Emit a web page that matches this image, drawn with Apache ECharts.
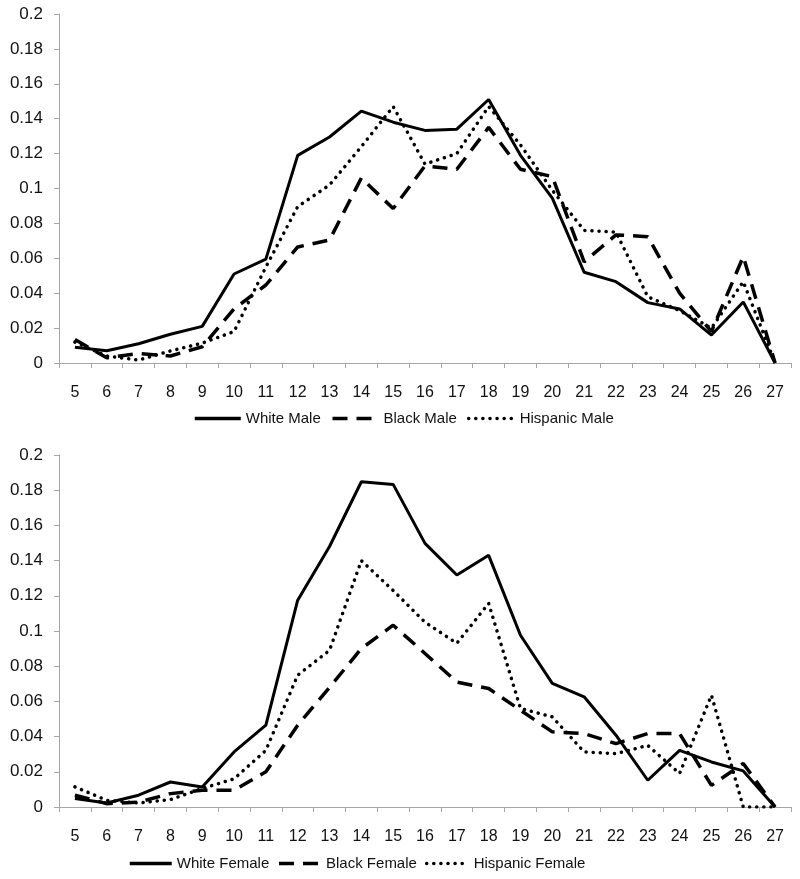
<!DOCTYPE html>
<html>
<head>
<meta charset="utf-8">
<script src="https://cdn.jsdelivr.net/npm/echarts@6/dist/echarts.min.js"></script>
<style>
html,body{margin:0;padding:0;background:#fff;}
#chart{width:800px;height:879px;}
</style>
</head>
<body>
<div id="chart"></div>
<script>
const ages = ['5','6','7','8','9','10','11','12','13','14','15','16','17','18','19','20','21','22','23','24','25','26','27'];
const yTicks = [0, 0.02, 0.04, 0.06, 0.08, 0.1, 0.12, 0.14, 0.16, 0.18, 0.2];

const whiteMale    = [0.009,0.007,0.011,0.0165,0.021,0.051,0.0595,0.119,0.1295,0.1443,0.138,0.1333,0.134,0.151,0.119,0.0945,0.052,0.0466,0.0346,0.031,0.016,0.035,0.0];
const blackMale    = [0.0135,0.003,0.0055,0.004,0.0093,0.031,0.0447,0.0665,0.0705,0.106,0.0885,0.113,0.111,0.135,0.111,0.1068,0.058,0.0734,0.0724,0.04,0.018,0.061,0.0];
const hispanicMale = [0.012,0.004,0.0017,0.0069,0.0114,0.018,0.055,0.0896,0.102,0.124,0.147,0.114,0.12,0.147,0.125,0.099,0.076,0.075,0.038,0.030,0.02,0.0466,0.0];

const whiteFemale    = [0.0048,0.0023,0.0067,0.0142,0.0114,0.0313,0.0465,0.1175,0.148,0.1848,0.1833,0.1498,0.1318,0.143,0.0976,0.0702,0.0626,0.0408,0.0152,0.0322,0.0256,0.0205,0.0];
const blackFemale    = [0.0067,0.0019,0.0028,0.0076,0.0095,0.0095,0.02,0.0465,0.068,0.090,0.1033,0.0872,0.071,0.0673,0.055,0.0427,0.0417,0.036,0.0417,0.0417,0.0123,0.0247,0.0];
const hispanicFemale = [0.0114,0.0038,0.0023,0.0042,0.0105,0.016,0.0322,0.0749,0.089,0.140,0.123,0.105,0.093,0.1157,0.056,0.0512,0.0313,0.0303,0.035,0.019,0.0635,0.0,0.0];

const axisGray = '#a6a6a6';
const fontFam = '"Liberation Sans", Arial, sans-serif';

function xAxisDef(gi){
  return {
    type:'category', gridIndex:gi, data:ages, boundaryGap:true,
    axisLine:{show:true, lineStyle:{color:axisGray, width:1}},
    axisTick:{show:true, alignWithLabel:false, length:5, lineStyle:{color:axisGray}},
    axisLabel:{color:'#111', fontSize:16, fontFamily:fontFam, margin:22, interval:0},
    splitLine:{show:false}
  };
}
function yAxisDef(gi){
  return {
    type:'value', gridIndex:gi, min:yTicks[0], max:yTicks[yTicks.length-1], interval:yTicks[1]-yTicks[0],
    axisLine:{show:true, lineStyle:{color:axisGray, width:1}},
    axisTick:{show:true, length:5, lineStyle:{color:axisGray}},
    axisLabel:{color:'#111', fontSize:17, fontFamily:fontFam, margin:16},
    splitLine:{show:false}
  };
}
const styles = {
  solid:  {color:'#000', width:3, type:'solid'},
  dashed: {color:'#000', width:3.5, type:[15,9], cap:'butt'},
  dotted: {color:'#000', width:3.5, type:[0.1,7], cap:'round'}
};
function ser(name, data, gi, st){
  return {
    name:name, type:'line', xAxisIndex:gi, yAxisIndex:gi, data:data,
    symbol:'none', showSymbol:false, smooth:false, animation:false,
    lineStyle:Object.assign({}, styles[st]), itemStyle:{color:'#000'},
    z: st==='solid'?3:2
  };
}
const legendCommon = {
  itemHeight:14, itemStyle:{opacity:0}, lineStyle:{width:3.5},
  textStyle:{fontSize:15, fontFamily:fontFam, color:'#111'}
};

const chart = echarts.init(document.getElementById('chart'), null, {renderer:'canvas'});
chart.setOption({
  backgroundColor:'#fff',
  animation:false,
  grid:[
    {left:59, right:9, top:14, height:349, containLabel:false},
    {left:59, right:9, top:455, height:352, containLabel:false}
  ],
  xAxis:[xAxisDef(0), xAxisDef(1)],
  yAxis:[yAxisDef(0), yAxisDef(1)],
  legend:[
    Object.assign({data:['White Male','Black Male','Hispanic Male'], left:188, top:406, itemWidth:46, itemGap:10}, legendCommon),
    Object.assign({data:['White Female','Black Female','Hispanic Female'], left:123, top:851, itemWidth:42, itemGap:8}, legendCommon)
  ],
  series:[
    ser('White Male', whiteMale, 0, 'solid'),
    ser('Black Male', blackMale, 0, 'dashed'),
    ser('Hispanic Male', hispanicMale, 0, 'dotted'),
    ser('White Female', whiteFemale, 1, 'solid'),
    ser('Black Female', blackFemale, 1, 'dashed'),
    ser('Hispanic Female', hispanicFemale, 1, 'dotted')
  ]
});
</script>
</body>
</html>
